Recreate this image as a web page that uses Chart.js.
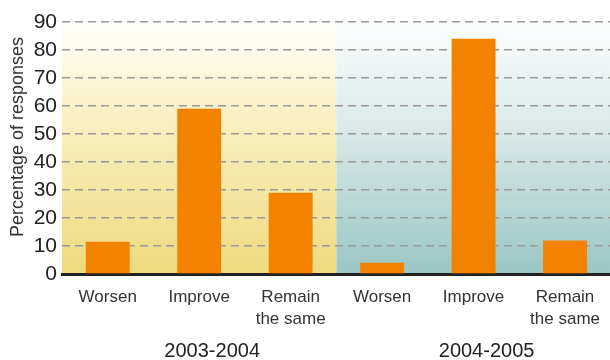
<!DOCTYPE html>
<html>
<head>
<meta charset="utf-8">
<script src="https://cdn.jsdelivr.net/npm/chart.js@4.4.1/dist/chart.umd.min.js"></script>
<style>
  html, body { margin: 0; padding: 0; background: #ffffff; overflow: hidden; width: 610px; height: 360px; }
  #wrap { width: 612px; height: 360px; }
</style>
</head>
<body>
<div id="wrap"><canvas id="c" width="612" height="360"></canvas></div>
<script>
const periods = ['2003-2004', '2004-2005'];
const responses = [['Worsen'], ['Improve'], ['Remain', 'the same']];
const values2003 = [11.5, 59, 29];
const values2004 = [4, 84, 12];
const yTicks = [0, 10, 20, 30, 40, 50, 60, 70, 80, 90];
const yTitle = 'Percentage of responses';

const labels = responses.concat(responses);
const values = values2003.concat(values2004);

const FONT = "'Liberation Sans', Arial, Helvetica, sans-serif";

const panelPlugin = {
  id: 'panels',
  beforeDraw(chart) {
    const { ctx, chartArea: a, scales } = chart;
    const xs = scales.x;
    const n = responses.length;
    const half = (xs.getPixelForValue(n - 1) + xs.getPixelForValue(n)) / 2;
    ctx.save();
    const g1 = ctx.createLinearGradient(0, a.top, 0, a.bottom);
    g1.addColorStop(0, '#fffefb');
    g1.addColorStop(0.4, '#f9efc0');
    g1.addColorStop(1, '#efda7e');
    ctx.fillStyle = g1;
    ctx.fillRect(a.left, a.top, half - a.left, a.bottom - a.top);
    const g2 = ctx.createLinearGradient(0, a.top, 0, a.bottom);
    g2.addColorStop(0, '#fbfdfd');
    g2.addColorStop(0.4, '#dcebea');
    g2.addColorStop(1, '#9ac6c4');
    ctx.fillStyle = g2;
    ctx.fillRect(half, a.top, a.right - half, a.bottom - a.top);
    ctx.restore();
  },
  afterDraw(chart) {
    const { ctx, chartArea: a, scales } = chart;
    const xs = scales.x;
    const n = responses.length;
    ctx.save();
    ctx.fillStyle = '#222222';
    ctx.font = '20px ' + FONT;
    ctx.textAlign = 'center';
    ctx.textBaseline = 'middle';
    periods.forEach((p, i) => {
      const x = (xs.getPixelForValue(i * n) + xs.getPixelForValue(i * n + n - 1)) / 2 + 13;
      ctx.fillText(p, x, 351);
    });
    ctx.translate(18, (a.top + a.bottom) / 2 - 11);
    ctx.rotate(-Math.PI / 2);
    ctx.fillStyle = '#333333';
    ctx.font = '18px ' + FONT;
    ctx.fillText(yTitle, 0, 0);
    ctx.restore();
  }
};

new Chart(document.getElementById('c'), {
  type: 'bar',
  data: {
    labels: labels,
    datasets: [{
      data: values,
      backgroundColor: '#f38200',
      borderWidth: 0,
      barPercentage: 0.48,
      categoryPercentage: 1.0
    }]
  },
  options: {
    responsive: false,
    animation: false,
    devicePixelRatio: 1,
    layout: { padding: { top: 22, right: 0, left: 0, bottom: 0 } },
    plugins: { legend: { display: false }, tooltip: { enabled: false } },
    scales: {
      x: {
        grid: { display: false, drawTicks: false },
        border: { display: true, color: '#222222', width: 3 },
        ticks: {
          color: '#333333',
          font: { family: FONT, size: 17, lineHeight: 1.3 },
          padding: 12,
          maxRotation: 0,
          autoSkip: false
        },
        afterFit(s) { s.height = 86; }
      },
      y: {
        min: 0,
        max: 90,
        afterBuildTicks(s) { s.ticks = yTicks.map(v => ({ value: v })); },
        grid: { color: '#9a9a9a', lineWidth: 1.5, drawTicks: false },
        border: { display: false, dash: [8, 5] },
        ticks: {
          color: '#222222',
          font: { family: FONT, size: 21 },
          padding: 5,
          autoSkip: false
        },
        afterFit(s) { s.width = 62; }
      }
    }
  },
  plugins: [panelPlugin]
});
</script>
</body>
</html>
